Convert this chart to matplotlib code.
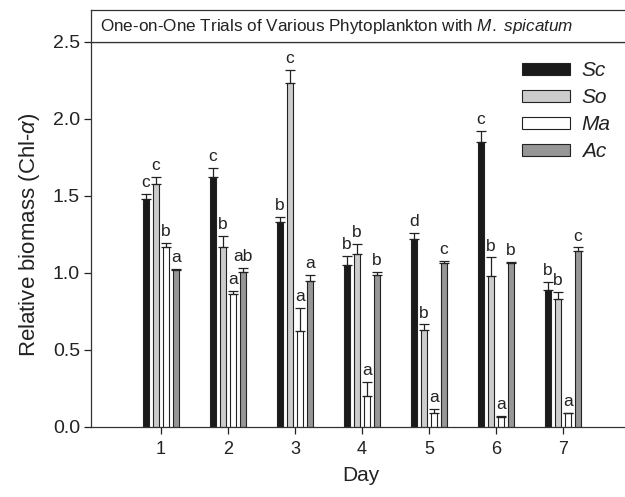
import numpy as np
import matplotlib
matplotlib.use("Agg")
import matplotlib.pyplot as plt

plt.rcParams['font.family'] = ['Liberation Sans', 'DejaVu Sans']
plt.rcParams['mathtext.fontset'] = 'custom'
plt.rcParams['mathtext.rm'] = 'Liberation Sans'
plt.rcParams['mathtext.it'] = 'Liberation Sans:italic'

# data
days = [1, 2, 3, 4, 5, 6, 7]
species = ['Sc', 'So', 'Ma', 'Ac']

sc = [1.48, 1.62, 1.33, 1.05, 1.22, 1.85, 0.89]
sc_err = [0.03, 0.06, 0.035, 0.06, 0.04, 0.07, 0.05]
so = [1.575, 1.17, 2.235, 1.12, 0.63, 0.98, 0.83]
so_err = [0.05, 0.07, 0.085, 0.07, 0.035, 0.12, 0.045]
ma = [1.17, 0.865, 0.62, 0.20, 0.09, 0.06, 0.087]
ma_err = [0.025, 0.015, 0.15, 0.09, 0.025, 0.01, 0.005]
ac = [1.02, 1.005, 0.95, 0.985, 1.065, 1.065, 1.14]
ac_err = [0.005, 0.025, 0.035, 0.02, 0.015, 0.005, 0.025]

sc_let = ['c', 'c', 'b', 'b', 'd', 'c', 'b']
so_let = ['c', 'b', 'c', 'b', 'b', 'b', 'b']
ma_let = ['b', 'a', 'a', 'a', 'a', 'a', 'a']
ac_let = ['a', 'ab', 'a', 'b', 'c', 'b', 'c']

colors = ['#1a1a1a', '#cccccc', '#ffffff', '#969696']
offsets = [-0.225, -0.075, 0.075, 0.225]
width = 0.1

fig = plt.figure(figsize=(6.25, 4.97), dpi=100)
ax = fig.add_axes([91/625, 70.3/497, 539/625, 384.7/497])

x = np.array(days, dtype=float)
series = [(sc, sc_err, sc_let), (so, so_err, so_let),
          (ma, ma_err, ma_let), (ac, ac_err, ac_let)]
for (vals, errs, lets), off, col, name in zip(series, offsets, colors, species):
    ax.bar(x + off, vals, width, color=col, edgecolor='#222222',
           linewidth=0.8, label=name, zorder=2)
    ax.errorbar(x + off, vals, yerr=[np.zeros(len(errs)), errs], fmt='none',
                ecolor='#222222', elinewidth=0.9, capsize=3.8, capthick=0.9,
                zorder=3)
    for xi, v, e, t in zip(x + off, vals, errs, lets):
        ax.text(xi, v + e + 0.025, t, ha='center', va='bottom',
                fontsize=12.5, color='#222222')

ax.set_xlim(-0.045, 8)
ax.set_ylim(0, 2.5)
ax.set_xticks(days)
ax.set_yticks([0.0, 0.5, 1.0, 1.5, 2.0, 2.5])
ax.set_yticklabels(['0.0', '0.5', '1.0', '1.5', '2.0', '2.5'])
ax.tick_params(axis='y', direction='out', length=5, width=0.9, pad=3,
               labelsize=14, colors='#222222')
ax.tick_params(axis='x', direction='out', length=5, width=0.9, pad=5,
               labelsize=13, colors='#222222')
for s in ax.spines.values():
    s.set_color('#333333')
    s.set_linewidth(0.9)

ax.set_xlabel('Day', fontsize=15, color='#222222', labelpad=6)
ax.set_ylabel(r'Relative biomass (Chl-$\alpha$)', fontsize=16,
              color='#222222', labelpad=8)

leg = ax.legend(loc='upper left', bbox_to_anchor=(0.8, 0.95),
                frameon=False, fontsize=15, handlelength=2.3,
                handleheight=0.5, labelspacing=0.38, handletextpad=0.55,
                borderpad=0, borderaxespad=0)
leg.set_zorder(5)
for t in leg.get_texts():
    t.set_fontstyle('italic')
    t.set_color('#222222')

# title box above the plot
tax = fig.add_axes([91/625, 454.7/497, 539/625, 32.3/497])
tax.set_xticks([])
tax.set_yticks([])
for s in tax.spines.values():
    s.set_color('#333333')
    s.set_linewidth(0.9)
tax.text(9/539, 0.5,
         r'One-on-One Trials of Various Phytoplankton with $\mathit{M.}$ $\mathit{spicatum}$',
         transform=tax.transAxes, ha='left', va='center', fontsize=12.3,
         color='#222222')

fig.savefig('out.png', dpi=100)
